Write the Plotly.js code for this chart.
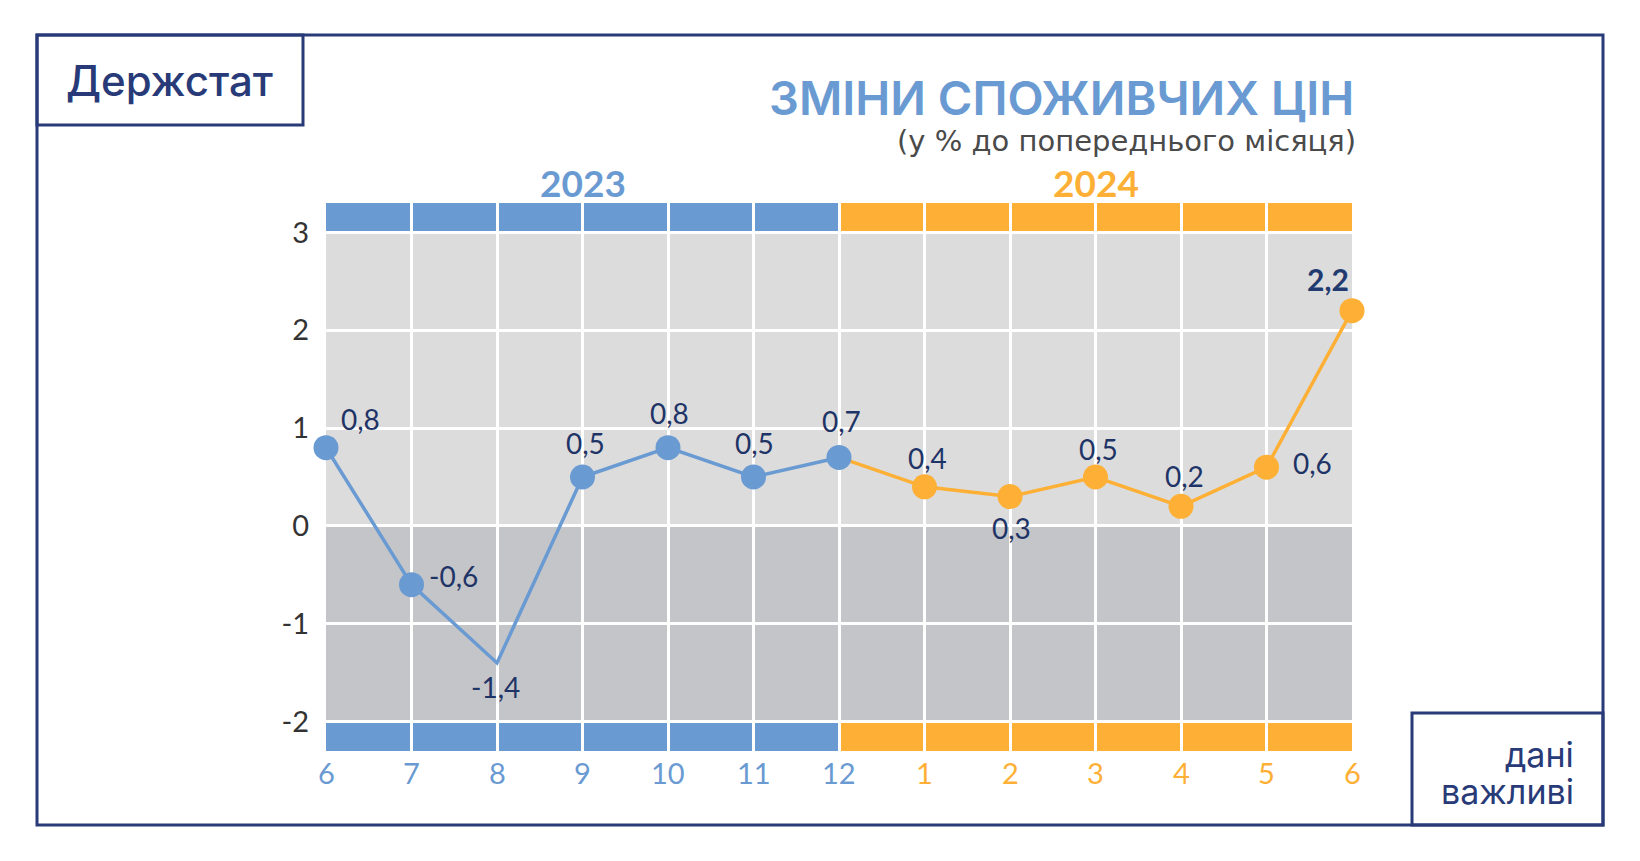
<!DOCTYPE html>
<html>
<head>
<meta charset="utf-8">
<script src="https://cdn.plot.ly/plotly-3.0.1.min.js"></script>
<style>html,body{margin:0;padding:0;background:#fff;}#chart{width:1640px;height:861px;}</style>
</head>
<body>
<div id="chart"></div>
<script>
// ---- data ----
const months = ['6','7','8','9','10','11','12','1','2','3','4','5','6'];
const years = [2023,2023,2023,2023,2023,2023,2023,2024,2024,2024,2024,2024,2024];
const cpi = [0.8,-0.6,-1.4,0.5,0.8,0.5,0.7,0.4,0.3,0.5,0.2,0.6,2.2];
const labels = ['0,8','-0,6','-1,4','0,5','0,8','0,5','0,7','0,4','0,3','0,5','0,2','0,6','2,2'];
const yTicks = [-2,-1,0,1,2,3];
const yearLabels = ['2023','2024'];

// ---- styles ----
const BLUE = '#6a9ad2', ORANGE = '#fdb035', NAVY = '#1f3466', FRAME = '#283b78';
const LIGHT = '#dcdcdc', DARK = '#c4c5c9';
const L = 326, T = 203, W = 1026, H = 548;
const px = v => (v - L) / W;
const py = v => (T + H - v) / H;
const NUMFONT = 'Lato';

const idx = months.map((m, i) => i);
const blueIdx = idx.filter(i => i <= 6);
const orangeIdx = idx.filter(i => i >= 6);

const traces = [
  {
    x: orangeIdx, y: orangeIdx.map(i => cpi[i]), type: 'scatter', mode: 'lines+markers',
    line: {color: ORANGE, width: 3.5},
    marker: {color: ORANGE, opacity: 1, line: {width: 0}, size: orangeIdx.map(i => i === 6 ? 0 : 25)},
    cliponaxis: false, hoverinfo: 'skip'
  },
  {
    x: blueIdx, y: blueIdx.map(i => cpi[i]), type: 'scatter', mode: 'lines+markers',
    line: {color: BLUE, width: 3.5},
    marker: {color: BLUE, opacity: 1, line: {width: 0}, size: blueIdx.map(i => i === 2 ? 0 : 25)},
    cliponaxis: false, hoverinfo: 'skip'
  }
];

// label offsets (style)
const lshift = [[34,29],[42,9],[-2,-24],[3,34],[1,35],[1,34],[2,36],[3,29],[1,-31],[3,28],[3,30],[46,4],[-24,32]];

const annotations = [];
cpi.forEach((v, i) => {
  const last = i === cpi.length - 1;
  annotations.push({
    x: i, y: v, xref: 'x', yref: 'y', text: last ? '<b>' + labels[i] + '</b>' : labels[i],
    showarrow: false, xshift: lshift[i][0], yshift: lshift[i][1], xanchor: 'center', yanchor: 'middle',
    font: {family: NUMFONT, size: last ? 30 : 28, color: last ? '#213a70' : NAVY}
  });
});

// x tick labels (coloured by year)
months.forEach((m, i) => {
  annotations.push({
    x: i, y: py(772), xref: 'x', yref: 'paper', xanchor: 'center', yanchor: 'middle',
    text: m, showarrow: false,
    font: {family: NUMFONT, size: 29, color: years[i] === 2023 ? BLUE : ORANGE}
  });
});

// year labels
annotations.push({x: 3, y: py(183), xref: 'x', yref: 'paper', xanchor: 'center', yanchor: 'middle',
  text: '<b>' + yearLabels[0] + '</b>', showarrow: false, font: {family: NUMFONT, size: 37, color: BLUE}});
annotations.push({x: 9, y: py(183), xref: 'x', yref: 'paper', xanchor: 'center', yanchor: 'middle',
  text: '<b>' + yearLabels[1] + '</b>', showarrow: false, font: {family: NUMFONT, size: 37, color: ORANGE}});

// titles
annotations.push({x: px(1356), y: py(97), xref: 'paper', yref: 'paper', xanchor: 'right', yanchor: 'middle',
  text: 'ЗМІНИ СПОЖИВЧИХ ЦІН', showarrow: false,
  font: {family: 'Inter', size: 47, weight: 600, color: BLUE}});
annotations.push({x: px(1358), y: py(141), xref: 'paper', yref: 'paper', xanchor: 'right', yanchor: 'middle',
  text: '(у % до попереднього місяця)', showarrow: false,
  font: {family: 'DejaVu Sans', size: 29, color: '#4a4a4a'}});
annotations.push({x: px(169), y: py(80), xref: 'paper', yref: 'paper', xanchor: 'center', yanchor: 'middle',
  text: 'Держстат', showarrow: false,
  font: {family: 'Inter', size: 42, weight: 500, color: FRAME}});
annotations.push({x: px(1576), y: py(754), xref: 'paper', yref: 'paper', xanchor: 'right', yanchor: 'middle',
  text: 'дані', showarrow: false, font: {family: 'Inter', size: 34, color: FRAME}});
annotations.push({x: px(1576), y: py(791), xref: 'paper', yref: 'paper', xanchor: 'right', yanchor: 'middle',
  text: 'важливі', showarrow: false, font: {family: 'Inter', size: 34, color: FRAME}});

// shapes
const shapes = [];
shapes.push({type: 'rect', xref: 'x', yref: 'y', x0: 0, x1: 12, y0: 0, y1: 3, fillcolor: LIGHT, line: {width: 0}, layer: 'below'});
shapes.push({type: 'rect', xref: 'x', yref: 'y', x0: 0, x1: 12, y0: -2, y1: 0, fillcolor: DARK, line: {width: 0}, layer: 'below'});
for (let i = 0; i < months.length - 1; i++) {
  const c = i >= 6 ? ORANGE : BLUE;
  shapes.push({type: 'rect', xref: 'x', yref: 'y', x0: i, x1: i + 1, y0: 3, y1: 3.3, fillcolor: c, line: {width: 0}, layer: 'below'});
  shapes.push({type: 'rect', xref: 'x', yref: 'y', x0: i, x1: i + 1, y0: -2.3, y1: -2, fillcolor: c, line: {width: 0}, layer: 'below'});
}
// frames
shapes.push({type: 'rect', xref: 'paper', yref: 'paper', x0: px(37), x1: px(1603), y0: py(825), y1: py(35), line: {color: FRAME, width: 3}});
shapes.push({type: 'rect', xref: 'paper', yref: 'paper', x0: px(37), x1: px(303), y0: py(125), y1: py(35), line: {color: FRAME, width: 3}});
shapes.push({type: 'rect', xref: 'paper', yref: 'paper', x0: px(1412), x1: px(1603), y0: py(825), y1: py(713), line: {color: FRAME, width: 3}});

const layout = {
  width: 1640, height: 861,
  margin: {l: L, r: 1640 - L - W, t: T, b: 861 - T - H, pad: 0},
  paper_bgcolor: '#fff', plot_bgcolor: '#fff',
  showlegend: false,
  xaxis: {
    range: [0, 12], tickvals: idx, showticklabels: false,
    showgrid: true, gridcolor: '#ffffff', gridwidth: 3, zeroline: false, showline: false,
    fixedrange: true
  },
  yaxis: {
    range: [-2.3, 3.3], tickvals: yTicks, ticktext: yTicks.map(String),
    showgrid: true, gridcolor: '#ffffff', gridwidth: 3, zeroline: false, showline: false,
    tickfont: {family: NUMFONT, size: 29, color: '#333333'}, ticks: 'outside', ticklen: 10, tickcolor: 'rgba(0,0,0,0)',
    fixedrange: true
  },
  shapes: shapes,
  annotations: annotations
};

Plotly.newPlot('chart', traces, layout, {staticPlot: true, displayModeBar: false});
</script>
</body>
</html>
